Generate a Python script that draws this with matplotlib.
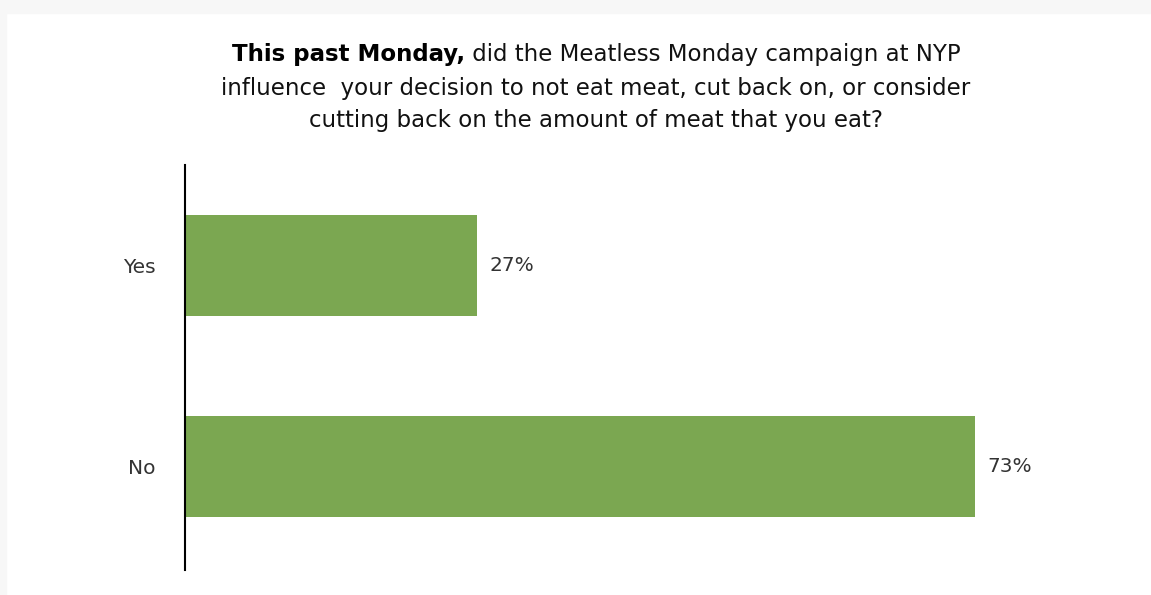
import matplotlib
matplotlib.use("Agg")
import matplotlib.pyplot as plt
from matplotlib.patches import Rectangle

answers = ["Yes", "No"]
shares = [27, 73]
title_bold = "This past Monday,"
title_rest = " did the Meatless Monday campaign at NYP"
title_lines = ["influence  your decision to not eat meat, cut back on, or consider",
               "cutting back on the amount of meat that you eat?"]

plt.rcParams['font.family'] = ['DejaVu Sans']

fig = plt.figure(figsize=(11.51, 5.95), dpi=100)
# light grey frame strip at top and left
fig.patches.append(Rectangle((0, 1 - 13/595), 1, 13/595, transform=fig.transFigure,
                             color="#f7f7f7", zorder=0))
fig.patches.append(Rectangle((0, 0), 6/1151, 1, transform=fig.transFigure,
                             color="#f7f7f7", zorder=0))

W, H = 1151, 595
ax = fig.add_axes([185/W, 1 - 570/H, (1105-185)/W, (570-165)/H])
ypos = [1, 0]
ax.barh(ypos, shares, height=0.5, color="#7ba751")
ax.set_xlim(0, 85)
ax.set_ylim(-0.515, 1.5)
for s in ["top", "right", "bottom"]:
    ax.spines[s].set_visible(False)
ax.spines["left"].set_linewidth(1.5)
ax.spines["left"].set_color("black")
ax.set_xticks([])
ax.set_yticks(ypos)
ax.set_yticklabels(answers, fontsize=14.5, color="#333333")
ax.tick_params(axis="y", length=0, pad=21)
for y, v in zip(ypos, shares):
    ax.text(v + 1.1, y, f"{v}%", va="center", ha="left", fontsize=14.5, color="#333333")

# title with bold lead-in, centered
cx = 596 / W
fs = 16.5
fig.canvas.draw()
r = fig.canvas.get_renderer()
t1 = fig.text(0, 1 - 55/H, title_bold, fontsize=fs, fontweight="bold", va="center", ha="left")
t2 = fig.text(0, 1 - 55/H, title_rest, fontsize=fs, va="center", ha="left", color="#111111")
w1 = t1.get_window_extent(r).width
w2 = t2.get_window_extent(r).width
x0 = cx * W - (w1 + w2) / 2
t1.set_x(x0 / W)
t2.set_x((x0 + w1) / W)
for i, line in enumerate(title_lines):
    fig.text(cx, 1 - (88 + 33*i)/H, line, fontsize=fs, va="center", ha="center", color="#111111")

fig.savefig("out.png", dpi=100)
